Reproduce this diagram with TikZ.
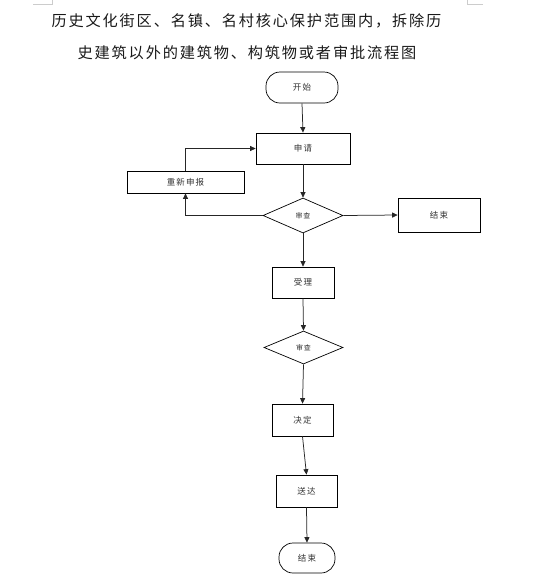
\documentclass[tikz,border=0pt]{standalone}
\usepackage{fontspec}
\usepackage{tikz}
\usetikzlibrary{arrows.meta,positioning,shapes.geometric}
\newfontfamily\cjk{Noto Sans CJK SC}
\newfontfamily\cjkwide[LetterSpace=12]{Noto Sans CJK SC}

\begin{document}
\begin{tikzpicture}[
    x=1pt, y=-1pt,
    term/.style={draw, line width=0.7pt, rounded corners=14pt, inner sep=0pt, text=black!80, font=\cjkwide\fontsize{8.5}{10}\selectfont},
    proc/.style={draw, line width=0.7pt, inner sep=0pt, text=black!80, font=\cjkwide\fontsize{8.5}{10}\selectfont},
    chk/.style={draw, diamond, line width=0.7pt, inner sep=0pt, text=black!80, font=\cjkwide\fontsize{7}{8}\selectfont},
    ttl/.style={inner sep=0pt, text=black!90, font=\cjkwide\fontsize{15.2}{18}\selectfont},
    conn/.style={-{Triangle[length=5.5pt,width=5pt]}, line width=0.75pt, draw=black!85},
    crop/.style={draw=black!20, line width=0.5pt}
]
\useasboundingbox (0,0) rectangle (546,574);

% --- Title ---
\node[ttl] (title1) at (246.5, 21) {历史文化街区、名镇、名村核心保护范围内，拆除历};
\node[ttl] (title2) at (247, 53) {史建筑以外的建筑物、构筑物或者审批流程图};

% --- page corner marks ---
\draw[crop] (33,4) -- (52,4) -- (52,0);
\draw[crop] (483,4) -- (467,4) -- (467,0);

% --- Main column ---
\node[term, minimum width=72pt, minimum height=31pt] (start) at (302, 87.5) {开始};
\node[proc, minimum width=94pt, minimum height=31pt] (apply) at (303, 148.5) {申请};
\node[chk, minimum width=80pt, minimum height=35pt] (check1) at (303, 215.5) {审查};
\node[proc, minimum width=62pt, minimum height=31pt] (accept) at (303, 282.5) {受理};
\node[chk, minimum width=79pt, minimum height=33pt] (check2) at (303.5, 347.5) {审查};
\node[proc, minimum width=61pt, minimum height=32pt] (decide) at (302.5, 420) {决定};
\node[proc, minimum width=61pt, minimum height=32pt] (deliver) at (306.5, 491) {送达};
\node[term, minimum width=56pt, minimum height=30pt] (finish) at (307, 558) {结束};

% --- Side boxes ---
\node[proc, minimum width=117pt, minimum height=22pt] (redo) at (185.5, 182) {重新申报};
\node[proc, minimum width=82pt, minimum height=34pt] (stop) at (439, 215) {结束};

% === Connections ===
\draw[conn] (start.south) -- (apply.north);
\draw[conn] (apply.south) -- (check1.north);
\draw[conn] (check1.east) -- (stop.west);
\draw[conn] (check1.west) -| (redo.south);
\draw[conn] (redo.north) |- (apply.west);
\draw[conn] (check1.south) -- (accept.north);
\draw[conn] (accept.south) -- (check2.north);
\draw[conn] (check2.south) -- (decide.north);
\draw[conn] (decide.south) -- (deliver.north);
\draw[conn] (deliver.south) -- (finish.north);
\end{tikzpicture}
\end{document}
